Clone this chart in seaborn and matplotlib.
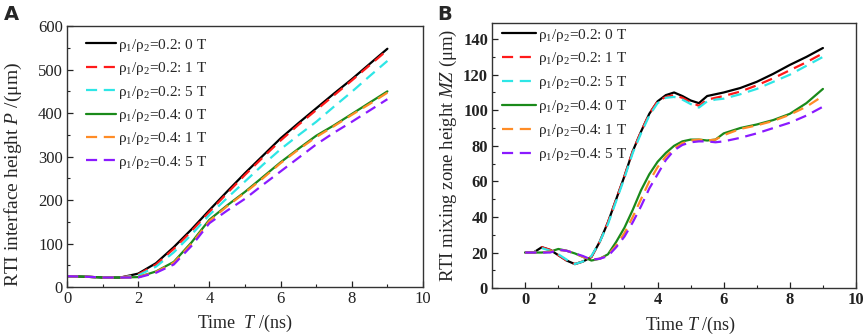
import numpy as np
import pandas as pd
import matplotlib
matplotlib.use("Agg")
import matplotlib.pyplot as plt
import seaborn as sns
from matplotlib.ticker import MultipleLocator

# ---- data ----
labels = [r"ρ$_1$/ρ$_2$=0.2: 0 T", r"ρ$_1$/ρ$_2$=0.2: 1 T", r"ρ$_1$/ρ$_2$=0.2: 5 T",
          r"ρ$_1$/ρ$_2$=0.4: 0 T", r"ρ$_1$/ρ$_2$=0.4: 1 T", r"ρ$_1$/ρ$_2$=0.4: 5 T"]

# panel A: interface height P (um)
time_a = [0, 0.5, 1, 1.5, 2, 2.5, 3, 3.5, 4, 4.5, 5, 5.5, 6, 6.5, 7, 7.5, 8, 8.5, 9]
p_02_0T = [25, 24, 22, 22, 31, 55, 92, 133, 177, 220, 262, 302, 342, 377, 411, 445, 478, 513, 548]
p_02_1T = [25, 24, 22, 22, 29, 52, 88, 129, 173, 216, 258, 298, 337, 373, 407, 441, 475, 510, 545]
p_02_5T = [25, 24, 22, 22, 27, 47, 80, 121, 166, 205, 243, 281, 317, 349, 380, 415, 449, 485, 520]
p_04_0T = [25, 24, 22, 22, 23, 36, 58, 103, 155, 188, 219, 253, 287, 318, 348, 372, 398, 424, 450]
p_04_1T = [25, 24, 22, 22, 23, 35, 56, 100, 152, 186, 217, 250, 285, 316, 345, 370, 396, 421, 447]
p_04_5T = [25, 24, 22, 22, 22, 33, 52, 95, 147, 176, 203, 235, 266, 297, 328, 355, 380, 406, 432]

# panel B: mixing zone height MZ (um)
time_b = [0, 0.25, 0.5, 0.75, 1.0, 1.25, 1.5, 1.75, 2.0, 2.25, 2.5, 2.75, 3.0, 3.25, 3.5, 3.75,
          4.0, 4.25, 4.5, 4.75, 5.0, 5.25, 5.5, 5.75, 6.0, 6.5, 7.0, 7.5, 8.0, 8.5, 9.0]
mz_02_0T = [20, 20, 23, 21.5, 18.5, 15.5, 13.5, 15, 17.5, 26, 37, 50, 63, 77, 88, 98,
            105, 108.5, 110, 108, 105.5, 104, 108, 109, 110, 112.5, 116, 120.5, 125.5, 130, 135]
mz_02_1T = [20, 20, 23, 21.5, 18.5, 15.5, 13.5, 15, 17.5, 26, 37, 50, 63, 77, 88, 98,
            105, 107.5, 108.5, 107, 104.5, 102.5, 106, 107, 108, 110.5, 114, 118, 122.5, 127, 132]
mz_02_5T = [20, 20, 22.5, 21, 19, 16, 13.5, 15, 18, 26, 36, 49, 62, 76, 87, 97,
            104, 107, 107.5, 106, 103.5, 101.5, 105, 106, 106.5, 109, 112, 116, 120, 125, 130]
mz_04_0T = [20, 20, 20, 20.5, 22, 21, 19.5, 17.5, 15.5, 16.5, 19, 26, 34, 44, 55, 64,
            71, 76, 80, 82.5, 83.5, 83.5, 83, 83.5, 87, 90, 92, 94.5, 98, 104, 112]
mz_04_1T = [20, 20, 20, 20.5, 21.5, 21, 19.5, 17.5, 16, 16.5, 18.5, 24, 31, 40, 50, 60,
            68, 74, 78.5, 81.5, 83, 83.5, 83, 83.5, 86, 89.5, 91.5, 94, 97.5, 102, 108]
mz_04_5T = [20, 20, 20, 20, 21.5, 21, 19.5, 18, 16, 16.5, 18, 23, 29, 37, 46, 56,
            64, 72, 77.5, 80.5, 82, 82.5, 82.5, 82, 82.5, 84.5, 87, 90, 93, 97, 102]

colors = ["black", "#ff1a1a", "#2ee6e6", "#1a8a1a", "#ff8c26", "#8a1aff"]
dashed = [False, True, True, False, True, True]

sns.set_style("ticks")
plt.rcParams["font.family"] = ["Liberation Serif", "DejaVu Serif"]
plt.rcParams["mathtext.fontset"] = "custom"
plt.rcParams["mathtext.rm"] = "Liberation Serif"
plt.rcParams["mathtext.it"] = "Liberation Serif:italic"
plt.rcParams["mathtext.bf"] = "Liberation Serif:bold"

fig = plt.figure(figsize=(8.65, 3.35), dpi=100)
ax_a = fig.add_axes([0.0775, 0.143, 0.4115, 0.779])
ax_b = fig.add_axes([0.569, 0.140, 0.4206, 0.791])


def draw(ax, t, series):
    for y, lab, c, d in zip(series, labels, colors, dashed):
        df = pd.DataFrame({"t": t, "v": y})
        kw = dict(linestyle=(0, (5, 3))) if d else dict(linestyle="-")
        sns.lineplot(data=df, x="t", y="v", ax=ax, color=c, lw=1.6, label=lab, **kw)


draw(ax_a, time_a, [p_02_0T, p_02_1T, p_02_5T, p_04_0T, p_04_1T, p_04_5T])
draw(ax_b, time_b, [mz_02_0T, mz_02_1T, mz_02_5T, mz_04_0T, mz_04_1T, mz_04_5T])

# panel A axes
ax_a.set_xlim(0, 10)
ax_a.set_ylim(0, 600)
ax_a.xaxis.set_major_locator(MultipleLocator(2))
ax_a.xaxis.set_minor_locator(MultipleLocator(1))
ax_a.yaxis.set_major_locator(MultipleLocator(100))
ax_a.yaxis.set_minor_locator(MultipleLocator(50))
ax_a.set_xlabel(r"Time  $T$ /(ns)", fontsize=13)
ax_a.xaxis.set_label_coords(0.5, -0.1)
ax_a.xaxis.label.set_va("top")
ax_a.set_ylabel(r"RTI interface height $P$ /(μm)", fontsize=14)
ax_a.yaxis.set_label_coords(-0.12, 0.43)

# panel B axes
ax_b.set_xlim(-1, 10)
ax_b.set_ylim(0, 149)
ax_b.xaxis.set_major_locator(MultipleLocator(2))
ax_b.xaxis.set_minor_locator(MultipleLocator(1))
ax_b.yaxis.set_major_locator(MultipleLocator(20))
ax_b.yaxis.set_minor_locator(MultipleLocator(10))
ax_b.set_xlabel(r"Time $T$ /(ns)", fontsize=13)
ax_b.xaxis.set_label_coords(6 / 11, -0.1)
ax_b.xaxis.label.set_va("top")
ax_b.set_ylabel(r"RTI mixing zone height $MZ$ (μm)", fontsize=13.5, labelpad=3)
for lab in ax_b.get_xticklabels() + ax_b.get_yticklabels():
    lab.set_fontweight("bold")

for ax in (ax_a, ax_b):
    ax.tick_params(which="both", direction="in", top=False, right=False,
                   labelsize=12, colors="#222222", pad=3)
    ax.tick_params(which="major", length=4, width=0.9)
    ax.tick_params(which="minor", length=2.5, width=0.8)
    for s in ax.spines.values():
        s.set_visible(True)
        s.set_color("#333333")
        s.set_linewidth(1.0)

ax_a.legend(loc="upper left", bbox_to_anchor=(0.035, 0.983), frameon=False,
            fontsize=11, handlelength=2.0, handletextpad=0.15, labelspacing=0.42,
            borderaxespad=0)
ax_b.legend(loc="upper left", bbox_to_anchor=(0.01, 1.01), frameon=False,
            fontsize=11, handlelength=2.2, handletextpad=0.15, labelspacing=0.45,
            borderaxespad=0)

fig.text(0.004, 0.985, "A", fontsize=14, fontweight="bold", family="DejaVu Sans",
         va="top", ha="left")
fig.text(0.506, 0.985, "B", fontsize=14, fontweight="bold", family="DejaVu Sans",
         va="top", ha="left")

fig.savefig("out.png", dpi=100)
